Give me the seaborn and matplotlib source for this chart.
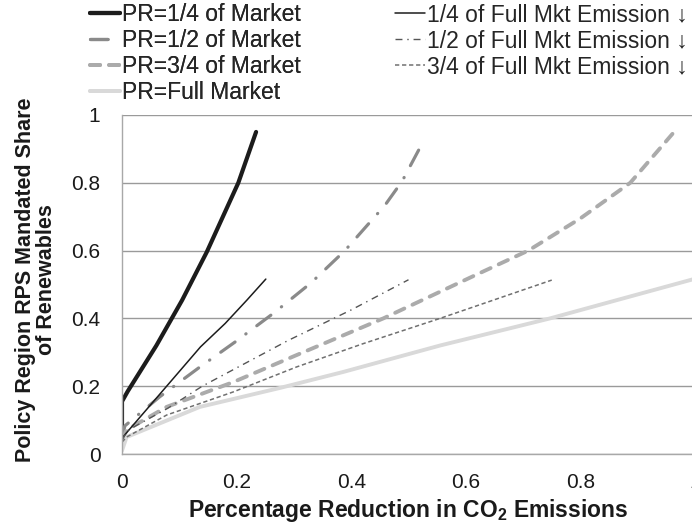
import numpy as np
import pandas as pd
import matplotlib
matplotlib.use("Agg")
import matplotlib.pyplot as plt
import seaborn as sns

# values (x = reduction in CO2, y = mandated share)
pr_quarter_x = [0, 0, 0.01, 0.06, 0.105, 0.148, 0.203, 0.234]
pr_quarter_y = [0.04, 0.155, 0.185, 0.32, 0.454, 0.596, 0.80, 0.95]

full_quarter_x = [0, 0.137, 0.18, 0.218, 0.251]
full_quarter_y = [0.047, 0.316, 0.385, 0.454, 0.516]

pr_half_x = [0, 0.005, 0.066, 0.133, 0.197, 0.265, 0.33, 0.389, 0.459, 0.489, 0.527]
pr_half_y = [0.045, 0.083, 0.169, 0.253, 0.33, 0.416, 0.505, 0.6, 0.734, 0.805, 0.926]

full_half_x = [0, 0.01, 0.08, 0.14, 0.29, 0.40, 0.5]
full_half_y = [0.04, 0.07, 0.135, 0.2, 0.335, 0.425, 0.514]

pr_3q_x = [0, 0.008, 0.078, 0.194, 0.305, 0.456, 0.621, 0.709, 0.8, 0.887, 0.962]
pr_3q_y = [0.04, 0.071, 0.139, 0.212, 0.292, 0.40, 0.531, 0.6, 0.695, 0.80, 0.947]

full_3q_x = [0, 0.008, 0.078, 0.194, 0.305, 0.42, 0.555, 0.75]
full_3q_y = [0.035, 0.05, 0.115, 0.183, 0.257, 0.325, 0.40, 0.513]

pr_full_x = [0, 0.008, 0.136, 0.276, 0.386, 0.555, 0.747, 1.0]
pr_full_y = [0.01, 0.05, 0.139, 0.195, 0.242, 0.32, 0.40, 0.517]

series_names = ["PR=1/4 of Market", "PR=1/2 of Market", "PR=3/4 of Market", "PR=Full Market",
                "1/4 of Full Mkt Emission \u2193", "1/2 of Full Mkt Emission \u2193",
                "3/4 of Full Mkt Emission \u2193"]
series_xy = [(pr_quarter_x, pr_quarter_y), (pr_half_x, pr_half_y), (pr_3q_x, pr_3q_y),
             (pr_full_x, pr_full_y), (full_quarter_x, full_quarter_y),
             (full_half_x, full_half_y), (full_3q_x, full_3q_y)]

styles = {
    "PR=1/4 of Market": dict(color="#1c1c1c", lw=3.0, ls="-", cap="butt"),
    "PR=1/2 of Market": dict(color="#8a8a8a", lw=2.3, ls=(0, (5.5, 4.2, 0.1, 4.2)), cap="round"),
    "PR=3/4 of Market": dict(color="#ababab", lw=2.8, ls=(0, (2.6, 2.3)), cap="round"),
    "PR=Full Market": dict(color="#d9d9d9", lw=2.8, ls="-", cap="butt"),
    "1/4 of Full Mkt Emission \u2193": dict(color="#1c1c1c", lw=1.1, ls="-", cap="butt"),
    "1/2 of Full Mkt Emission \u2193": dict(color="#555555", lw=1.0, ls=(0, (5, 3.5, 1, 3.5)), cap="butt"),
    "3/4 of Full Mkt Emission \u2193": dict(color="#707070", lw=1.1, ls=(0, (2.8, 1.8)), cap="butt"),
}

frames = []
for name, (xs, ys) in zip(series_names, series_xy):
    frames.append(pd.DataFrame({"x": xs, "y": ys, "series": name}))
df = pd.concat(frames, ignore_index=True)

sns.set_style("white")
plt.rcParams["font.family"] = ["Liberation Sans", "DejaVu Sans"]
plt.rcParams["mathtext.fontset"] = "custom"
plt.rcParams["mathtext.rm"] = "Liberation Sans"
plt.rcParams["mathtext.bf"] = "Liberation Sans:bold"

fig = plt.figure(figsize=(6.92, 5.27), dpi=100)
ax = fig.add_axes([122 / 692, 1 - 454 / 527, 573 / 692, 339 / 527])

handles = {}
for name in series_names:
    st = styles[name]
    sub = df[df["series"] == name]
    sns.lineplot(data=sub, x="x", y="y", ax=ax, estimator=None, sort=False,
                 color=st["color"], lw=st["lw"], linestyle=st["ls"],
                 dash_capstyle=st["cap"], legend=False)
    handles[name] = ax.get_lines()[-1]

ticks = [0, 0.2, 0.4, 0.6, 0.8, 1]
tick_labels = ["0", "0.2", "0.4", "0.6", "0.8", "1"]
ax.set_xlim(0, 1)
ax.set_ylim(0, 1)
ax.set_xticks(ticks)
ax.set_xticklabels(tick_labels)
ax.set_yticks(ticks)
ax.set_yticklabels(tick_labels)
ax.yaxis.grid(True, color="#9a9a9a", lw=1.0)
ax.set_axisbelow(True)
for side in ["top", "right"]:
    ax.spines[side].set_visible(False)
for side in ["left", "bottom"]:
    ax.spines[side].set_color("#a8a8a8")
    ax.spines[side].set_linewidth(1.0)
ax.tick_params(axis="both", which="major", direction="out", length=5.5, width=1.0,
               color="#a8a8a8", labelsize=15, labelcolor="#1a1a1a")
ax.tick_params(axis="x", pad=8)
ax.tick_params(axis="y", pad=10)
for lab in ax.get_xticklabels() + ax.get_yticklabels():
    lab.set_clip_on(False)

ax.set_xlabel(r"Percentage Reduction in CO$_\mathbf{2}$ Emissions", fontsize=16.5,
              fontweight="bold", color="#1a1a1a", va="center")
ax.xaxis.set_label_coords(0.5, (454 - 511) / 339)
ax.set_ylabel("Policy Region RPS Mandated Share\nof Renewables", fontsize=15.5,
              fontweight="bold", color="#1a1a1a", linespacing=1.05, va="center")
ax.yaxis.set_label_coords((36 - 122) / 573, (454 - 280) / 339)

left_names = series_names[:4]
right_names = series_names[4:]
leg_kw = dict(loc="upper left", frameon=False, fontsize=16.5, handlelength=1.3,
              handletextpad=0.09, labelspacing=0.135, borderpad=0, borderaxespad=0)
leg1 = fig.legend([handles[n] for n in left_names], left_names,
                  bbox_to_anchor=(90 / 692, 1 - 3 / 527), **leg_kw)
leg2 = fig.legend([handles[n] for n in right_names], right_names,
                  bbox_to_anchor=(395 / 692, 1 - 3 / 527), **leg_kw)
fig.add_artist(leg1)

fig.savefig("out.png", dpi=100)
